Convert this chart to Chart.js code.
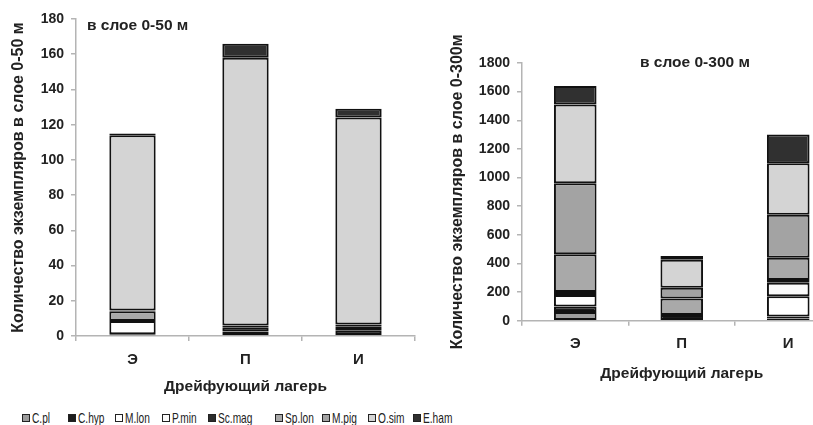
<!DOCTYPE html>
<html>
<head>
<meta charset="utf-8">
<script src="https://cdn.jsdelivr.net/npm/chart.js@4.4.1/dist/chart.umd.min.js"></script>
<style>
  html, body { margin:0; padding:0; width:813px; height:425px; overflow:hidden; background:#fff; }
  #wrapL { position:absolute; left:0; top:0; width:420px; height:400px; }
  #wrapR { position:absolute; left:430px; top:0; width:420px; height:400px; }
  #legend { position:absolute; left:0; top:410px; width:813px; height:16px;
            font-family:"Liberation Sans",Arial,sans-serif; font-size:14.5px; color:#222; }
  .li { position:absolute; top:0; display:flex; align-items:center; height:16px; white-space:nowrap; }
  .sw { width:6px; height:6px; border:1.5px solid #222; margin-right:2px; flex:none; }
  .tx { display:inline-block; transform:scaleX(0.7); transform-origin:left center; }
</style>
</head>
<body>
<div id="wrapL"><canvas id="cL" width="420" height="400"></canvas></div>
<div id="wrapR"><canvas id="cR" width="420" height="400"></canvas></div>
<div id="legend"></div>
<script>
// ---- data ----
const categories = ['Э', 'П', 'И'];
const seriesNames = ['C.pl', 'C.hyp', 'M.lon', 'P.min', 'Sc.mag', 'Sp.lon', 'M.pig', 'O.sim', 'E.ham'];

// layer 0-50 m
const cpl50   = [1, 0.5, 0.5];
const chyp50  = [0, 0, 2.5];
const mlon50  = [7.5, 2, 0];
const pmin50  = [0, 0, 0];
const scmag50 = [0, 2.5, 1.5];
const splon50 = [5.5, 0, 1];
const mpig50  = [0.5, 1, 1];
const osim50  = [99.5, 152, 117.5];
const eham50  = [1, 8, 5];

// layer 0-300 m
const cpl300   = [60, 0, 15];
const chyp300  = [40, 40, 15];
const mlon300  = [80, 0, 140];
const pmin300  = [0, 0, 95];
const scmag300 = [20, 0, 20];
const splon300 = [265, 115, 155];
const mpig300  = [495, 75, 300];
const osim300  = [550, 195, 360];
const eham300  = [130, 27, 200];

const ticks50 = [0, 20, 40, 60, 80, 100, 120, 140, 160, 180];
const ticks300 = [0, 200, 400, 600, 800, 1000, 1200, 1400, 1600, 1800];

const seriesColors = ['#9c9c9c', '#1c1c1c', '#ffffff', '#fafafa', '#2c2c2c', '#a9a9a9', '#a3a3a3', '#d4d4d4', '#303030'];

const data50 = [cpl50, chyp50, mlon50, pmin50, scmag50, splon50, mpig50, osim50, eham50];
const data300 = [cpl300, chyp300, mlon300, pmin300, scmag300, splon300, mpig300, osim300, eham300];

const FONT = '"Liberation Sans", Arial, sans-serif';
const TXT = '#222';
const AXIS = '#b4b4b4';

const captionPlugin = {
  id: 'caption',
  afterDraw(chart, args, o) {
    const ctx = chart.ctx;
    ctx.save();
    ctx.font = 'bold 15.5px ' + FONT;
    ctx.fillStyle = TXT;
    ctx.textBaseline = 'middle';
    ctx.textAlign = 'left';
    ctx.fillText(o.text, o.x, o.y);
    ctx.restore();
  }
};

function makeChart(id, seriesData, tickList, cfg) {
  const datasets = seriesNames.map((n, i) => ({
    label: n,
    data: seriesData[i],
    backgroundColor: seriesColors[i],
    borderColor: '#111',
    borderWidth: 2,
    borderSkipped: false,
    categoryPercentage: 1,
    barPercentage: cfg.barPct
  }));
  return new Chart(document.getElementById(id), {
    type: 'bar',
    data: { labels: categories, datasets },
    plugins: [captionPlugin],
    options: {
      responsive: false,
      animation: false,
      devicePixelRatio: 1,
      layout: { padding: { top: cfg.padTop, right: cfg.padRight, left: 0, bottom: 0 } },
      plugins: {
        legend: { display: false },
        tooltip: { enabled: false },
        caption: { text: cfg.caption, x: cfg.capX, y: cfg.capY }
      },
      scales: {
        x: {
          stacked: true,
          afterFit: s => { s.height = cfg.xHeight; },
          border: { display: true, color: AXIS, width: 1.5 },
          grid: { display: true, drawOnChartArea: false, drawTicks: true, tickLength: 5, color: AXIS, lineWidth: 1.5, offset: true },
          ticks: { color: TXT, font: { family: FONT, size: 15, weight: 'bold', lineHeight: 1 }, padding: cfg.xTickPad },
          title: { display: true, text: 'Дрейфующий лагерь', color: TXT,
                   font: { family: FONT, size: 15.5, weight: 'bold', lineHeight: 1 }, padding: { top: 0, bottom: cfg.xTitlePad } }
        },
        y: {
          stacked: true,
          min: 0, max: tickList[tickList.length - 1],
          afterFit: s => { s.width = cfg.yWidth; },
          afterBuildTicks: s => { s.ticks = tickList.map(v => ({ value: v })); },
          border: { display: true, color: AXIS, width: 1.5 },
          grid: { display: true, drawOnChartArea: false, drawTicks: true, tickLength: 5, color: AXIS, lineWidth: 1.5 },
          ticks: { color: TXT, font: { family: FONT, size: 14, weight: 'bold' }, padding: cfg.yTickPad,
                   callback: v => String(v) },
          title: { display: true, text: cfg.yTitle, color: TXT,
                   font: { family: FONT, size: 16, weight: 'bold', lineHeight: 1 }, padding: { top: cfg.yTitlePad, bottom: 0 } }
        }
      }
    }
  });
}

makeChart('cL', data50, ticks50, {
  barPct: 0.41, padTop: 19, padRight: 5, xHeight: 64, yWidth: 76,
  xTickPad: 11, xTitlePad: 6, yTickPad: 7, yTitlePad: 11,
  yTitle: 'Количество экземпляров в слое 0-50 м',
  caption: 'в слое 0-50 м', capX: 87, capY: 26
});

makeChart('cR', data300, ticks300, {
  barPct: 0.40, padTop: 63, padRight: 8.5, xHeight: 79.3, yWidth: 92,
  xTickPad: 11, xTitlePad: 19, yTickPad: 7, yTitlePad: 20,
  yTitle: 'Количество экземпляров в слое 0-300м',
  caption: 'в слое 0-300 м', capX: 210, capY: 63
});

// shared legend
const legendX = [22, 68, 115, 162, 208, 275, 322, 368, 413];
const lg = document.getElementById('legend');
seriesNames.forEach((n, i) => {
  const d = document.createElement('div');
  d.className = 'li';
  d.style.left = legendX[i] + 'px';
  const sw = document.createElement('span');
  sw.className = 'sw';
  sw.style.background = seriesColors[i];
  const t = document.createElement('span');
  t.className = 'tx';
  t.textContent = n;
  d.appendChild(sw); d.appendChild(t);
  lg.appendChild(d);
});
</script>
</body>
</html>
